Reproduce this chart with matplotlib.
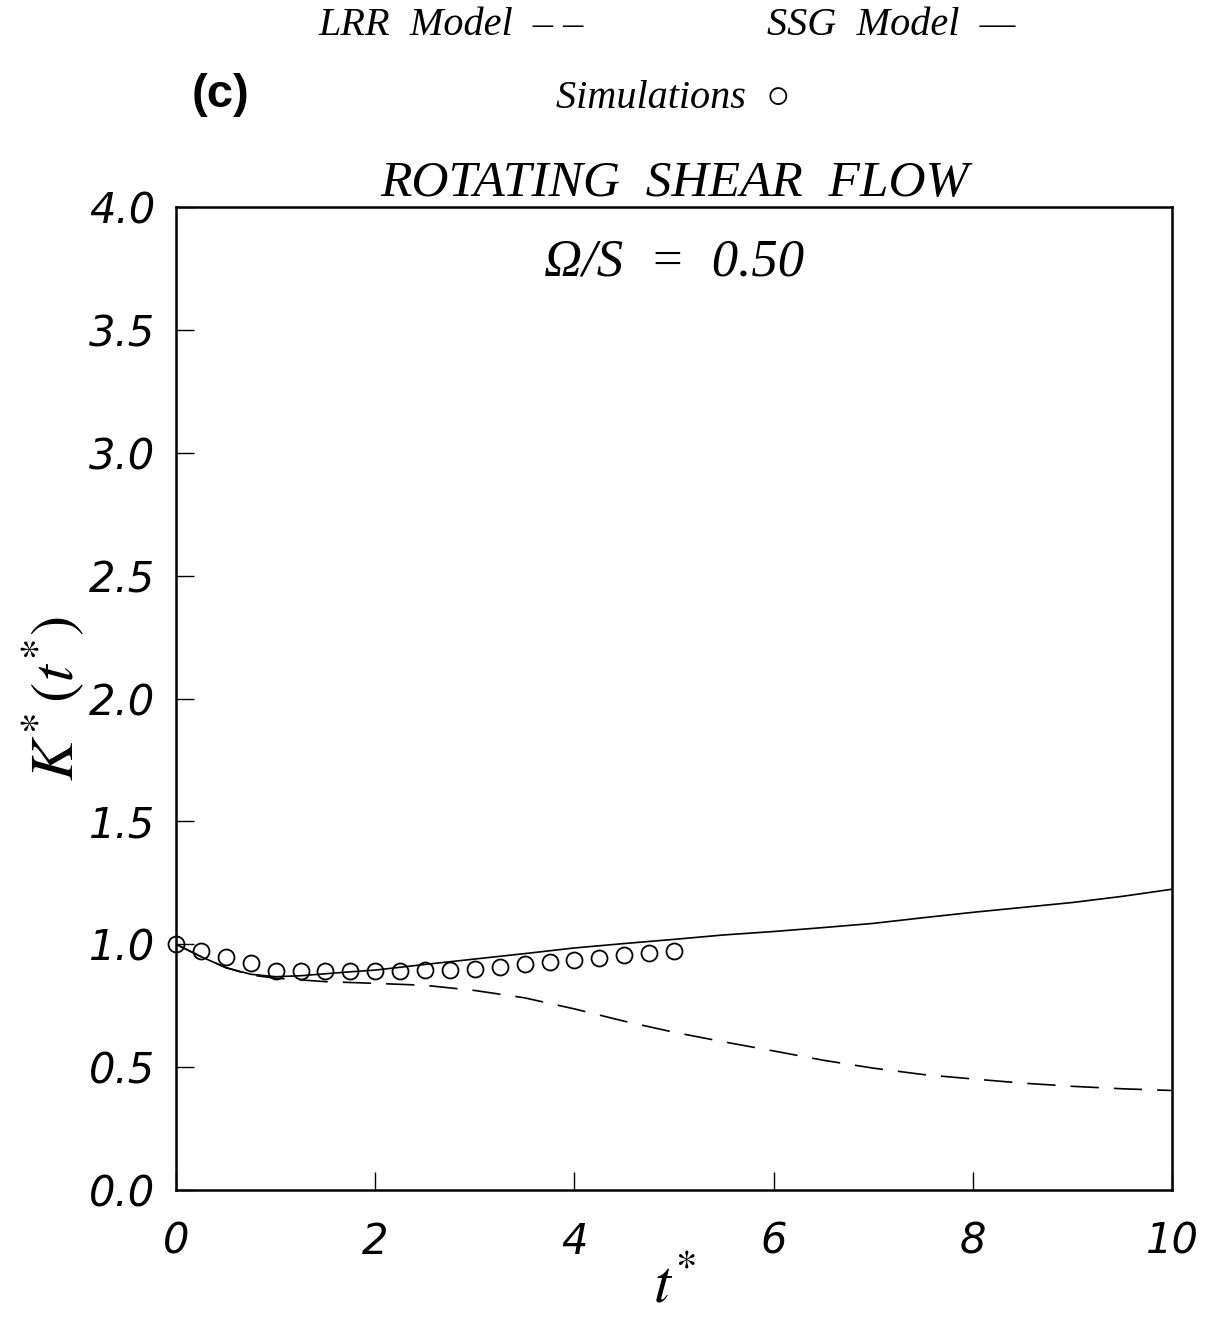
import numpy as np
import matplotlib
matplotlib.use("Agg")
import matplotlib.pyplot as plt

plt.rcParams['font.family'] = ['Liberation Serif', 'DejaVu Serif']
plt.rcParams['mathtext.fontset'] = 'stix'

# Simulation points (t* every 0.25 up to 5)
t_sim = [0.0, 0.25, 0.5, 0.75, 1.0, 1.25, 1.5, 1.75, 2.0, 2.25, 2.5,
         2.75, 3.0, 3.25, 3.5, 3.75, 4.0, 4.25, 4.5, 4.75, 5.0]
k_sim = [1.0, 0.973, 0.949, 0.925, 0.892, 0.892, 0.891, 0.891, 0.891, 0.892, 0.895,
         0.895, 0.899, 0.909, 0.918, 0.929, 0.936, 0.945, 0.956, 0.963, 0.973]

# SSG model (solid)
t_ssg = [0.0, 0.25, 0.5, 0.75, 1.0, 1.25, 1.5, 1.75, 2.0, 2.5, 3.0, 3.5, 4.0,
         4.5, 5.0, 5.5, 6.0, 6.5, 7.0, 7.5, 8.0, 8.5, 9.0, 9.5, 10.0]
k_ssg = [1.0, 0.95, 0.905, 0.878, 0.868, 0.872, 0.88, 0.888, 0.895, 0.918, 0.94, 0.962, 0.985,
         1.003, 1.02, 1.038, 1.052, 1.068, 1.085, 1.108, 1.13, 1.15, 1.17, 1.195, 1.224]

# LRR model (dashed)
t_lrr = [0.0, 0.25, 0.5, 0.75, 1.0, 1.5, 2.0, 2.5, 3.0, 3.5, 4.0, 4.5, 5.0,
         5.5, 6.0, 6.5, 7.0, 7.5, 8.0, 8.5, 9.0, 9.5, 10.0]
k_lrr = [1.0, 0.95, 0.905, 0.875, 0.862, 0.848, 0.841, 0.833, 0.812, 0.782, 0.737, 0.687, 0.642,
         0.603, 0.566, 0.528, 0.496, 0.47, 0.452, 0.435, 0.422, 0.412, 0.405]

xticks = [0, 2, 4, 6, 8, 10]
yticks = [0.0, 0.5, 1.0, 1.5, 2.0, 2.5, 3.0, 3.5, 4.0]

fig = plt.figure(figsize=(12.09, 13.18), dpi=100)
ax = fig.add_axes([0.1456, 0.0971, 0.8238, 0.7458])

ax.plot(t_ssg, k_ssg, color='black', lw=1.2)
ax.plot(t_lrr, k_lrr, color='black', lw=1.2, dashes=(17, 9))
ax.plot(t_sim, k_sim, 'o', mfc='none', mec='black', ms=11.5, mew=1.3, clip_on=False)

ax.set_xlim(0, 10)
ax.set_ylim(0, 4)
ax.set_xticks(xticks)
ax.set_yticks(yticks)
ax.set_xticklabels([str(v) for v in xticks], fontstyle='italic', fontsize=30,
                   family=['DejaVu Sans'])
ax.set_yticklabels(['%.1f' % v for v in yticks], fontstyle='italic', fontsize=30,
                   family=['DejaVu Sans'])
ax.tick_params(direction='in', length=13, width=1.0, top=False, right=False)
ax.tick_params(axis='x', pad=22)
ax.tick_params(axis='y', pad=15)
for s in ax.spines.values():
    s.set_linewidth(1.8)

ax.set_xlabel('$t^{*}$', fontsize=44, labelpad=-2)
ax.set_ylabel('$K^{*}\\,(t^{*})$', fontsize=44, labelpad=2)

ax.set_title('ROTATING  SHEAR  FLOW', fontsize=37, fontstyle='italic', pad=8)
ax.text(0.5, 0.944, 'Ω/S  =  0.50', transform=ax.transAxes, ha='center',
        va='center', fontsize=38, fontstyle='italic')

fig.text(0.373, 0.981, 'LRR  Model  – –', fontsize=29, fontstyle='italic',
         ha='center', va='center')
fig.text(0.737, 0.981, 'SSG  Model  —', fontsize=29, fontstyle='italic',
         ha='center', va='center')
fig.text(0.557, 0.925, 'Simulations  ○', fontsize=29, fontstyle='italic',
         ha='center', va='center', family=['Liberation Serif', 'DejaVu Sans'])
fig.text(0.182, 0.928, '(c)', fontsize=34, fontweight='bold', ha='center',
         va='center', family=['Liberation Sans'])

fig.savefig('out.png', dpi=100)
